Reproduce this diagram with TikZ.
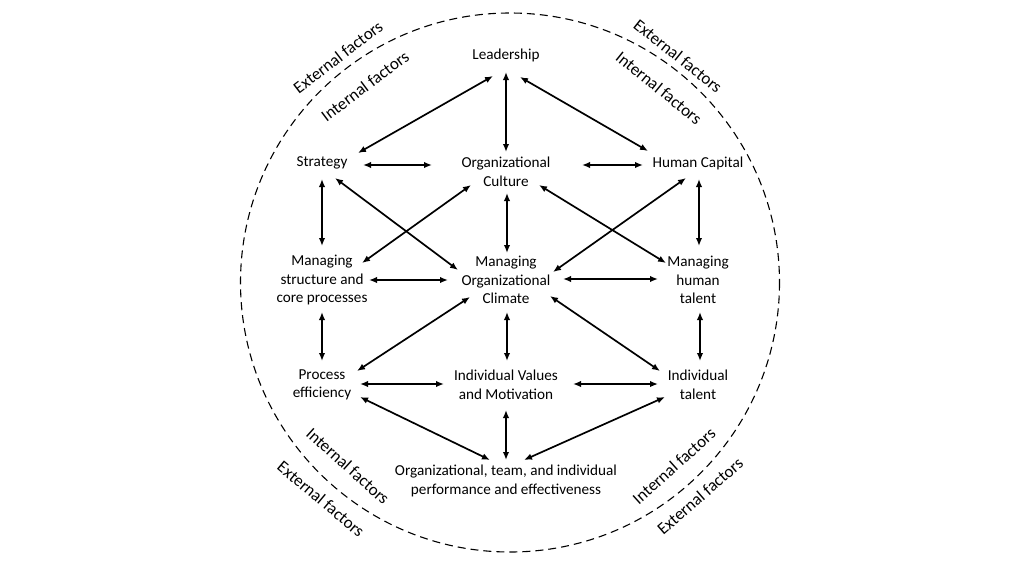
\documentclass[tikz,border=0pt]{standalone}
\usepackage{fontspec}
\setmainfont{Carlito}
\usetikzlibrary{arrows.meta}
\begin{document}
\begin{tikzpicture}[x=1pt,y=-1pt,
  box/.style={align=center,inner sep=0pt,font=\fontsize{15.2}{18.5}\selectfont},
  flab/.style={inner sep=0pt,font=\fontsize{17}{20}\selectfont},
  arr/.style={line width=1.7pt,{Latex[length=8pt,width=6.5pt]}-{Latex[length=8pt,width=6.5pt]}},
  ring/.style={line width=1.1pt,dash pattern=on 8pt off 5pt}]
\useasboundingbox (0,0) rectangle (1023,566);
\draw[ring] (510,282.5) circle[radius=269.5];
% factor labels
\node[flab,rotate=37.5] (ulx) at (338,57) {External factors};
\node[flab,rotate=37] (uli) at (365,86) {Internal factors};
\node[flab,rotate=-38.5] (urx) at (678,56) {External factors};
\node[flab,rotate=-39] (uri) at (659,88) {Internal factors};
\node[flab,rotate=-42] (lli) at (348,466) {Internal factors};
\node[flab,rotate=-40] (llx) at (321,499) {External factors};
\node[flab,rotate=42] (lri) at (674,466) {Internal factors};
\node[flab,rotate=41] (lrx) at (700,496) {External factors};
% nodes
\node[box] (lead) at (506,55) {Leadership};
\node[box] (strat) at (322,163) {Strategy};
\node[box] (cult) at (506,172) {Organizational\\Culture};
\node[box] (hc) at (698,163) {Human Capital};
\node[box] (mstr) at (322,280) {Managing\\structure and\\core processes};
\node[box] (mclim) at (506,280) {Managing\\Organizational\\Climate};
\node[box] (mhum) at (698,280) {Managing\\human\\talent};
\node[box] (proc) at (322,385) {Process\\efficiency};
\node[box] (ival) at (506,385) {Individual Values\\and Motivation};
\node[box] (ital) at (698,385) {Individual\\talent};
\node[box] (perf) at (506,481) {Organizational, team, and individual\\performance and effectiveness};
% connectors
\draw[arr] ([shift={(-13,21)}]lead.center) -- ([shift={(36,-10)}]strat.center);
\draw[arr] ([shift={(0,17)}]lead.center) -- ([shift={(0,-20)}]cult.center);
\draw[arr] ([shift={(14,22)}]lead.center) -- ([shift={(-50,-12)}]hc.center);
\draw[arr] ([shift={(41,2)}]strat.center) -- ([shift={(-74,-7)}]cult.center);
\draw[arr] ([shift={(76,-7)}]cult.center) -- ([shift={(-55,2)}]hc.center);
\draw[arr] ([shift={(0,16)}]strat.center) -- ([shift={(0,-34)}]mstr.center);
\draw[arr] ([shift={(13,15)}]strat.center) -- ([shift={(-48,-10)}]mclim.center);
\draw[arr] ([shift={(-35,13)}]cult.center) -- ([shift={(40,-17)}]mstr.center);
\draw[arr] ([shift={(47,0)}]mstr.center) -- ([shift={(-58,0)}]mclim.center);
\draw[arr] ([shift={(1,21)}]cult.center) -- ([shift={(1,-27)}]mclim.center);
\draw[arr] ([shift={(57,-1)}]mclim.center) -- ([shift={(-40,-1)}]mhum.center);
\draw[arr] ([shift={(33,13)}]cult.center) -- ([shift={(-32,-17)}]mhum.center);
\draw[arr] ([shift={(-12,15)}]hc.center) -- ([shift={(47,-8)}]mclim.center);
\draw[arr] ([shift={(1,16)}]hc.center) -- ([shift={(1,-34)}]mhum.center);
\draw[arr] ([shift={(0,32)}]mstr.center) -- ([shift={(0,-24)}]proc.center);
\draw[arr] ([shift={(-36,17)}]mclim.center) -- ([shift={(35,-14)}]proc.center);
\draw[arr] ([shift={(1,32)}]mclim.center) -- ([shift={(1,-24)}]ival.center);
\draw[arr] ([shift={(38,-1)}]proc.center) -- ([shift={(-62,-1)}]ival.center);
\draw[arr] ([shift={(38,12)}]proc.center) -- ([shift={(-16,-21)}]perf.center);
\draw[arr] ([shift={(0,25)}]ival.center) -- ([shift={(0,-21)}]perf.center);
\draw[arr] ([shift={(-33,12)}]ital.center) -- ([shift={(18,-21)}]perf.center);
\draw[arr] ([shift={(67,-1)}]ival.center) -- ([shift={(-40,-1)}]ital.center);
\draw[arr] ([shift={(44,16)}]mclim.center) -- ([shift={(-38,-14)}]ital.center);
\draw[arr] ([shift={(2,32)}]mhum.center) -- ([shift={(2,-24)}]ital.center);
\end{tikzpicture}
\end{document}
